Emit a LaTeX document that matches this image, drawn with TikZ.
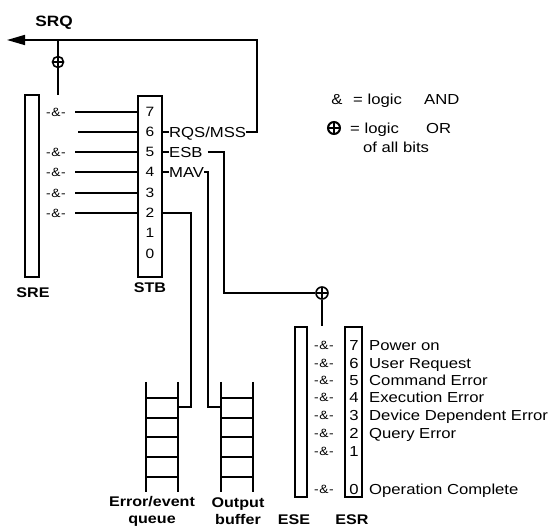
\documentclass[tikz,border=0pt]{standalone}
\usepackage{fontspec}
\setmainfont{Liberation Sans}[FakeStretch=1.15]
\usetikzlibrary{arrows.meta}

\tikzset{
  regbox/.style={draw, line width=1.6pt, inner sep=0pt},
  sigline/.style={line width=1.6pt},
  bitnum/.style={font=\fontsize{13.5}{15}\selectfont, inner sep=0pt,
    text height=9.6pt, text depth=0pt},
  andlbl/.style={font=\fontsize{12}{14}\selectfont, inner sep=0pt,
    text height=8.4pt, text depth=0pt},
  plainlbl/.style={font=\fontsize{14.5}{16}\selectfont, inner sep=0pt,
    anchor=west, text height=10.4pt, text depth=0pt},
  boldlbl/.style={font=\fontsize{14}{17}\selectfont\bfseries, inner sep=0pt,
    align=center},
  orgate/.style={circle, draw, line width=1.6pt, minimum size=11pt, inner sep=0pt,
    path picture={\draw[line width=1.6pt]
      (path picture bounding box.north) -- (path picture bounding box.south)
      (path picture bounding box.west) -- (path picture bounding box.east);}},
}

\begin{document}
\begin{tikzpicture}[x=1pt, y=-1pt]
  \useasboundingbox (0,0) rectangle (555,529);

  % registers
  \node[regbox, minimum width=14pt, minimum height=182pt] (SRE) at (32,186) {};
  \node[regbox, minimum width=24pt, minimum height=181pt] (STB) at (150,186.5) {};
  \node[regbox, minimum width=12pt, minimum height=170pt] (ESE) at (301,412) {};
  \node[regbox, minimum width=17pt, minimum height=170pt] (ESR) at (353.5,412) {};

  \node[boldlbl] (sreLbl) at (33,293) {SRE};
  \node[boldlbl] (stbLbl) at (150,288) {STB};
  \node[boldlbl] (eseLbl) at (294,520) {ESE};
  \node[boldlbl] (esrLbl) at (352,520) {ESR};
  \node[boldlbl, font=\fontsize{15}{17}\selectfont\bfseries] (srqLbl) at (54,23) {SRQ};

  % column positions
  \coordinate (srcCol)  at (75,0);
  \coordinate (srcCol6) at (78,0);
  \coordinate (andCol)  at (56,0);
  \coordinate (rqsCol)  at (257,0);
  \coordinate (esbCol)  at (224,0);
  \coordinate (mavCol)  at (208,0);
  \coordinate (eqCol)   at (191,0);
  \coordinate (srqTip)  at (7,40);
  \coordinate (eqIn)    at (178,407);
  \coordinate (obIn)    at (221,407);

  % status byte
  \foreach \k/\y in {7/112,6/132,5/152,4/172,3/193,2/213,1/233,0/254}
    \node[bitnum] (stb\k) at (150,\y) {\k};

  \foreach \k in {7,5,4,3,2} {
    \node[andlbl] (sand\k) at (andCol |- stb\k) {-\kern.6pt\&\kern.6pt-};
    \draw[sigline] (srcCol |- stb\k) -- (STB.west |- stb\k);
  }
  \draw[sigline] (srcCol6 |- stb6) -- (STB.west |- stb6);

  \node[plainlbl] (rqs) at (169,132) {RQS/MSS};
  \node[plainlbl] (esb) at (169,152) {ESB};
  \node[plainlbl] (mav) at (169,172) {MAV};
  \foreach \n/\k in {rqs/6, esb/5, mav/4}
    \draw[sigline] (STB.east |- stb\k) -- (\n.west);

  % service request
  \draw[sigline, -{Triangle[length=18pt, width=10pt]}]
    (rqs.east) -- (rqsCol |- rqs) |- (srqTip);
  \node[orgate] (orSrq) at (58,62) {};
  \draw[sigline] (orSrq.north) -- (orSrq |- srqTip);
  \draw[sigline] (orSrq.south) -- (orSrq |- STB.north);

  % event status
  \foreach \k/\y/\txt in {7/345/Power on, 6/363/User Request, 5/380/Command Error,
      4/397/Execution Error, 3/415/Device Dependent Error, 2/433/Query Error,
      1/451/, 0/489/Operation Complete} {
    \node[bitnum, font=\fontsize{14.5}{16}\selectfont, text height=10.4pt] (esr\k) at (354,\y) {\k};
    \node[andlbl] (eand\k) at (324,\y) {-\kern.6pt\&\kern.6pt-};
    \node[plainlbl] (esrTxt\k) at (369,\y) {\txt};
  }
  \node[orgate, minimum size=12pt] (orEsr) at (322,293) {};
  \draw[sigline] ([xshift=5pt]esb.east) -- (esbCol |- esb) |- (orEsr.west);
  \draw[sigline] (orEsr.south) -- (orEsr |- ESR.north);

  % queues
  \foreach \lx in {146,221} {
    \draw[line width=2pt] (\lx,382) -- (\lx,492) (\lx+32,382) -- (\lx+32,492);
    \foreach \ry in {398,418,437,457,477}
      \draw[line width=1.6pt] (\lx,\ry) -- (\lx+32,\ry);
  }
  \draw[sigline] (mav.east) -- (mavCol |- mav) |- (obIn);
  \draw[sigline] (STB.east |- stb2) -- (eqCol |- stb2) |- (eqIn);
  \node[boldlbl] (eqLbl) at (152,511) {Error/event\\queue};
  \node[boldlbl] (obLbl) at (238,511) {Output\\buffer};

  % legend
  \node[plainlbl, anchor=center] (legAmp) at (337,99) {\&};
  \node[plainlbl] (legAndEq) at (353,99) {= logic};
  \node[plainlbl] (legAnd) at (424,99) {AND};
  \node[orgate, minimum size=12pt, line width=2pt] (legOr) at (334,128) {};
  \node[plainlbl] (legOrEq) at (350,128) {= logic};
  \node[plainlbl] (legOrTxt) at (426,128) {OR};
  \node[plainlbl] (legAll) at (363,147) {of all bits};
\end{tikzpicture}
\end{document}
